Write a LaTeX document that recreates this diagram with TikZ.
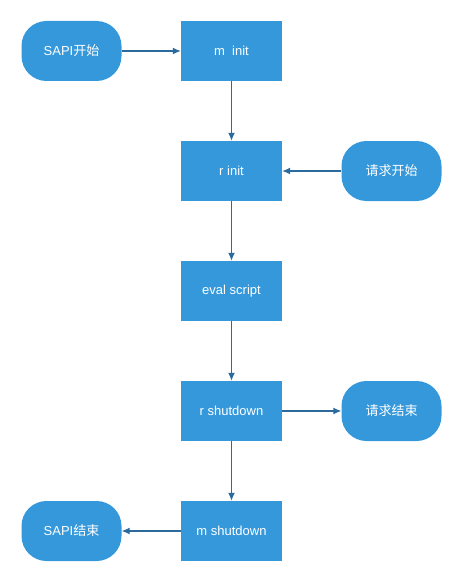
\documentclass[tikz,border=0pt]{standalone}
\usepackage{fontspec}
\setmainfont{Liberation Sans}
\newfontfamily\cjk{Noto Sans CJK SC}
\usetikzlibrary{positioning,arrows.meta}

\definecolor{boxblue}{HTML}{3598DB}
\definecolor{lineblue}{HTML}{2A6A9C}

\begin{document}
\begin{tikzpicture}[x=1pt,y=1pt,node distance=120pt and 160pt,on grid,>={Latex[length=8pt,width=7pt]}]
        \tikzstyle{proc}=[fill=boxblue,text=white,minimum width=101pt,minimum height=60pt,inner sep=0pt,font=\fontsize{13}{15}\selectfont]
        \tikzstyle{term}=[proc,minimum width=100pt,rounded corners=25pt]
        \tikzstyle{link}=[->,color=lineblue,line width=1.2pt]
        \useasboundingbox (0,0) rectangle (463,-583);
        \node[proc] (minit) at (231.5,-51) {m\ \ init};
        \node[term] (sapistart) [left=of minit] {SAPI{\cjk 开始}};
        \node[proc] (rinit) [below=of minit] {r init};
        \node[term] (reqstart) [right=of rinit] {\cjk 请求开始};
        \node[proc] (eval) [below=of rinit] {eval script};
        \node[proc] (rshut) [below=of eval] {r shutdown};
        \node[term] (reqend) [right=of rshut] {\cjk 请求结束};
        \node[proc] (mshut) [below=of rshut] {m shutdown};
        \node[term] (sapiend) [left=of mshut] {SAPI{\cjk 结束}};
        \path[link]
        (sapistart) edge (minit)
        (minit) edge (rinit)
        (reqstart) edge (rinit)
        (rinit) edge (eval)
        (eval) edge (rshut)
        (rshut) edge (reqend)
        (rshut) edge (mshut)
        (mshut) edge (sapiend);
    \end{tikzpicture}
\end{document}
